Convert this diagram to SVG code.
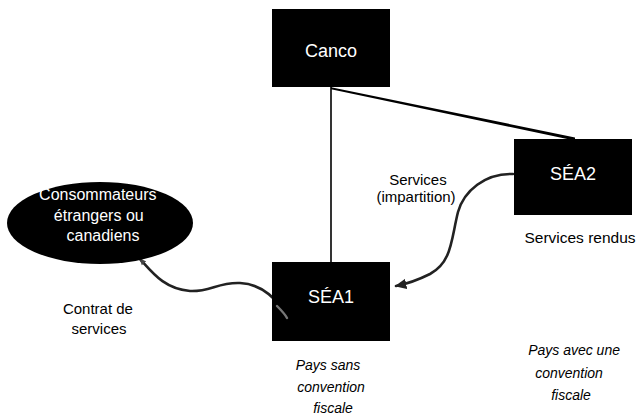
<svg xmlns="http://www.w3.org/2000/svg" width="640" height="415" viewBox="0 0 640 415">
  <style>
    .box { fill: #000; }
    .label { font-family: "Liberation Sans", Arial, sans-serif; text-anchor: middle; }
    .in { fill: #fff; }
    .out { fill: #000; }
    .note { font-family: "Liberation Sans", Arial, sans-serif; font-style: italic; font-size: 14px; fill: #000; text-anchor: middle; }
    .link { fill: none; stroke: #000; }
    .flow { fill: none; stroke: #222; stroke-width: 2.6; stroke-linecap: round; }
  </style>
  <defs>
    <marker id="head" viewBox="0 0 10 10" refX="8" refY="5" markerWidth="5" markerHeight="5" orient="auto-start-reverse">
      <path d="M0,1 L9,5 L0,9 Z" fill="#222"/>
    </marker>
    <marker id="tip" viewBox="0 0 10 10" refX="8" refY="5" markerWidth="2.8" markerHeight="2.8" orient="auto-start-reverse">
      <path d="M0,1 L9,5 L0,9 Z" fill="#444"/>
    </marker>
    <clipPath id="sea1-area">
      <rect x="272" y="262" width="118" height="79"/>
    </clipPath>
  </defs>

  <rect width="640" height="415" fill="#fff"/>

  <!-- ownership lines and service flows -->
  <g id="connectors">
    <line class="link" x1="331" y1="87" x2="331" y2="262" stroke-width="1.6"/>
    <polygon points="331,87.2 331,89.2 572,140 575,140 575,137.5" fill="#000"/>
    <!-- outsourced services from SÉA2 to SÉA1 -->
    <path class="flow" d="M513,174 C485,173 464,191 458,212 C451,240 452,262 430,274 C418,280 406,284 396,286" marker-end="url(#head)"/>
    <!-- service contract with customers -->
    <path class="flow" d="M140,259 C152,272 164,289 190,291 C210,292 218,282 240,283 C262,284 279,300 287,318" marker-start="url(#tip)"/>
  </g>

  <g id="canco">
    <rect class="box" x="272" y="9" width="118" height="78"/>
    <text class="label in" x="331" y="57" font-size="18">Canco</text>
  </g>

  <g id="sea2">
    <rect class="box" x="514" y="139" width="118" height="76"/>
    <text class="label in" x="573" y="180" font-size="18">SÉA2</text>
  </g>

  <g id="sea1">
    <rect class="box" x="272" y="262" width="118" height="79"/>
    <text class="label in" x="331" y="303" font-size="18">SÉA1</text>
  </g>

  <!-- contract line shows grey over the SÉA1 block -->
  <path d="M277,306 C281,310 285,314 287,318" fill="none" stroke="#777" stroke-width="2.4" stroke-linecap="round" clip-path="url(#sea1-area)"/>

  <g id="consommateurs">
    <ellipse cx="100" cy="223" rx="93" ry="41" fill="#000"/>
    <text class="label in" font-size="16">
      <tspan x="100" y="200">Consommateurs</tspan>
      <tspan x="101" y="221">étrangers ou</tspan>
      <tspan x="103" y="241">canadiens</tspan>
    </text>
  </g>

  <g id="labels">
    <text class="label out" font-size="15">
      <tspan x="420" y="185">Services</tspan>
      <tspan x="416" y="202">(impartition)</tspan>
    </text>
    <text class="label out" x="580" y="243" font-size="15.5">Services rendus</text>
    <text class="label out" font-size="15">
      <tspan x="100" y="314">Contrat de</tspan>
      <tspan x="99" y="334">services</tspan>
    </text>
    <text class="note">
      <tspan x="330" y="370">Pays sans</tspan>
      <tspan x="333" y="392">convention</tspan>
      <tspan x="333" y="413">fiscale</tspan>
    </text>
    <text class="note">
      <tspan x="576" y="355">Pays avec une</tspan>
      <tspan x="571" y="378">convention</tspan>
      <tspan x="571" y="400">fiscale</tspan>
    </text>
  </g>
</svg>
